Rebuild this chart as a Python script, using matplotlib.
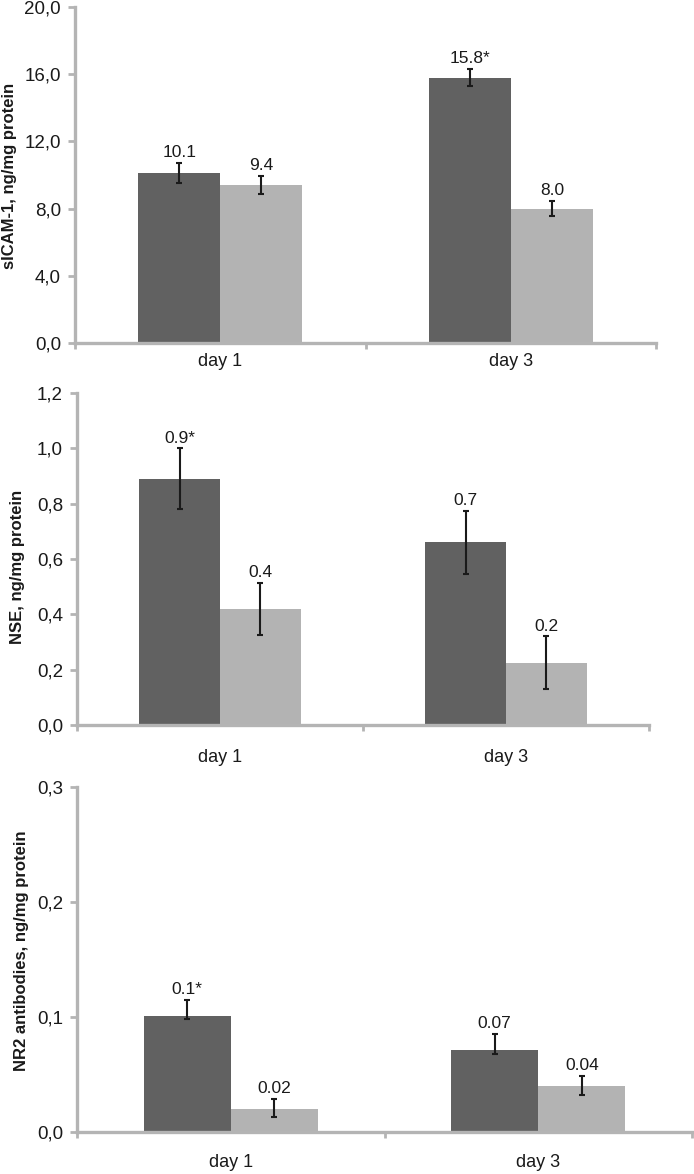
import numpy as np
import matplotlib.pyplot as plt
from matplotlib.ticker import FuncFormatter

plt.rcParams['font.family'] = ['Liberation Sans', 'DejaVu Sans']

days = ['day 1', 'day 3']

# sICAM-1
icam_dark = [10.1, 15.8]
icam_light = [9.4, 8.0]
icam_dark_err = [0.6, 0.5]
icam_light_err = [0.55, 0.45]
icam_dark_lbl = ['10.1', '15.8*']
icam_light_lbl = ['9.4', '8.0']

# NSE
nse_dark = [0.89, 0.66]
nse_light = [0.42, 0.225]
nse_dark_err = [0.11, 0.115]
nse_light_err = [0.095, 0.095]
nse_dark_lbl = ['0.9*', '0.7']
nse_light_lbl = ['0.4', '0.2']

# NR2 antibodies (error bars are asymmetric: lower, upper)
nr2_dark = [0.101, 0.071]
nr2_light = [0.02, 0.04]
nr2_dark_err = [[0.003, 0.003], [0.014, 0.014]]
nr2_light_err = [[0.007, 0.008], [0.009, 0.009]]
nr2_dark_lbl = ['0.1*', '0.07']
nr2_light_lbl = ['0.02', '0.04']

dark_c = '#616161'
light_c = '#b3b3b3'
axis_c = '#b4b4b4'
txt_c = '#1a1a1a'

W, H = 694, 1174
fig = plt.figure(figsize=(W / 100, H / 100), dpi=100)


def px_axes(left, right, top, bottom):
    return fig.add_axes([left / W, 1 - bottom / H, (right - left) / W, (bottom - top) / H])


def draw_panel(ax, dark, light, dark_err, light_err, dark_lbl, light_lbl,
               ymax, step, ylabel, xlab_pad, ylab_px, ylab_py):
    x = np.arange(len(days))
    bw = 0.283
    ax.bar(x - bw / 2, dark, bw, color=dark_c, zorder=2)
    ax.bar(x + bw / 2, light, bw, color=light_c, zorder=2)
    ax.errorbar(x - bw / 2, dark, yerr=dark_err, fmt='none', ecolor=txt_c,
                elinewidth=1.5, capsize=2.5, capthick=1.5, zorder=3)
    ax.errorbar(x + bw / 2, light, yerr=light_err, fmt='none', ecolor=txt_c,
                elinewidth=1.5, capsize=2.5, capthick=1.5, zorder=3)

    de = np.array(dark_err)
    le = np.array(light_err)
    d_up = de[1] if de.ndim == 2 else de
    l_up = le[1] if le.ndim == 2 else le
    for i in range(len(days)):
        ax.annotate(dark_lbl[i], (x[i] - bw / 2, dark[i] + d_up[i]), xytext=(0, 2),
                    textcoords='offset points', ha='center', va='bottom',
                    fontsize=12.5, color=txt_c)
        ax.annotate(light_lbl[i], (x[i] + bw / 2, light[i] + l_up[i]), xytext=(0, 2),
                    textcoords='offset points', ha='center', va='bottom',
                    fontsize=12.5, color=txt_c)

    ax.set_xlim(-0.5, len(days) - 0.5)
    ax.set_ylim(0, ymax)
    ax.set_yticks(np.arange(0, ymax + step / 2, step))
    ax.yaxis.set_major_formatter(FuncFormatter(lambda v, p: '{:.1f}'.format(v).replace('.', ',')))
    ax.set_xticks(np.arange(-0.5, len(days), 1.0))
    ax.set_xticklabels([])
    ax.set_xticks(x, minor=True)
    ax.set_xticklabels(days, minor=True)
    ax.tick_params(axis='x', which='minor', length=0, pad=xlab_pad, labelsize=13, labelcolor=txt_c)
    ax.tick_params(axis='x', which='major', length=4, width=2, color=axis_c)
    ax.tick_params(axis='y', length=5, width=2, color=axis_c, labelsize=13.5, labelcolor=txt_c, pad=5)

    for s in ['top', 'right']:
        ax.spines[s].set_visible(False)
    for s in ['left', 'bottom']:
        ax.spines[s].set_color(axis_c)
        ax.spines[s].set_linewidth(2.4)
    fig.text(ylab_px / W, 1 - ylab_py / H, ylabel, rotation=90, ha='center', va='center',
             fontsize=12, fontweight='bold', color=txt_c)


ax1 = px_axes(75, 656, 7, 343)
draw_panel(ax1, icam_dark, icam_light, icam_dark_err, icam_light_err,
           icam_dark_lbl, icam_light_lbl, 20, 4, 'sICAM-1, ng/mg protein', 7, 10, 176)

ax2 = px_axes(77, 649, 393, 725)
draw_panel(ax2, nse_dark, nse_light, nse_dark_err, nse_light_err,
           nse_dark_lbl, nse_light_lbl, 1.2, 0.2, 'NSE, ng/mg protein', 17, 18, 567)

ax3 = px_axes(77, 692, 787, 1132)
draw_panel(ax3, nr2_dark, nr2_light, nr2_dark_err, nr2_light_err,
           nr2_dark_lbl, nr2_light_lbl, 0.3, 0.1, 'NR2 antibodies, ng/mg protein', 16, 22, 951)

fig.savefig('out.png', dpi=100)
